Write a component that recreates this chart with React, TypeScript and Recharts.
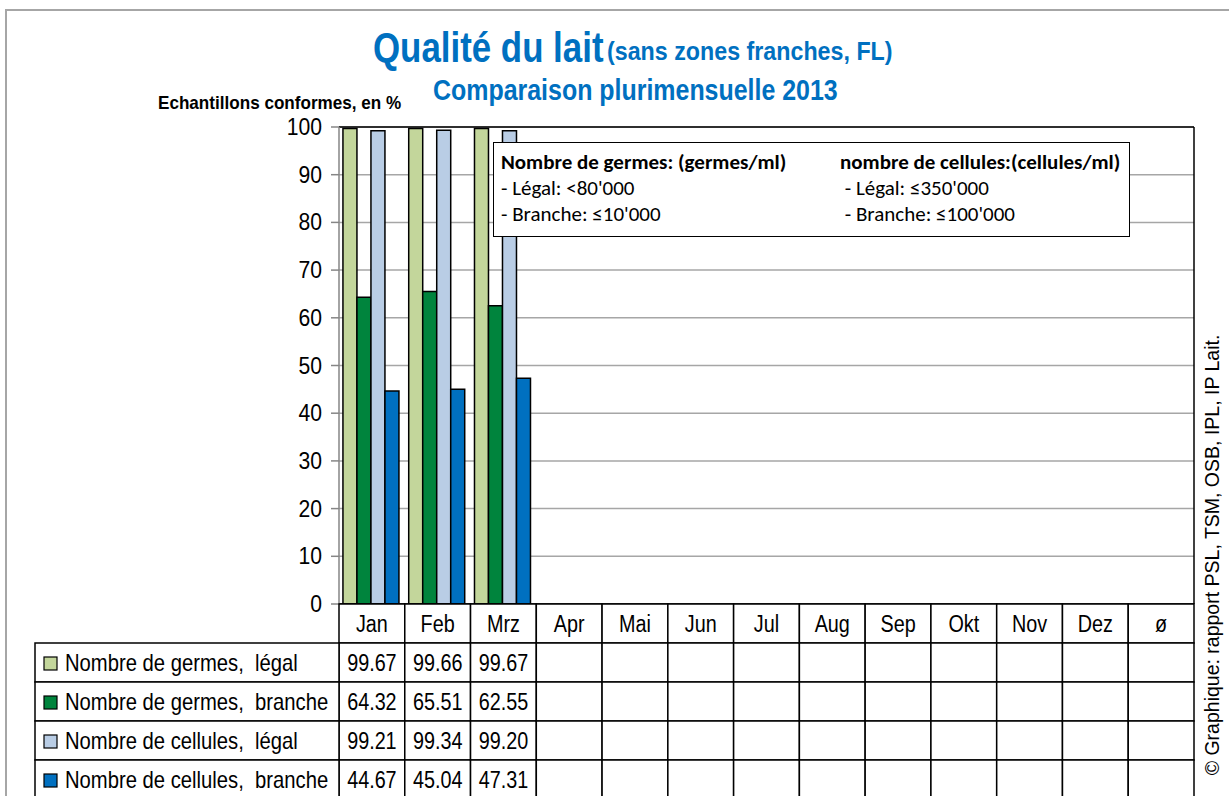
import React from "react";
import { Bar, BarChart, CartesianGrid, ReferenceLine, XAxis, YAxis } from "recharts";

const months = ["Jan", "Feb", "Mrz", "Apr", "Mai", "Jun", "Jul", "Aug", "Sep", "Okt", "Nov", "Dez", "ø"];
const germesLegal = [99.67, 99.66, 99.67, null, null, null, null, null, null, null, null, null, null];
const germesBranche = [64.32, 65.51, 62.55, null, null, null, null, null, null, null, null, null, null];
const cellulesLegal = [99.21, 99.34, 99.2, null, null, null, null, null, null, null, null, null, null];
const cellulesBranche = [44.67, 45.04, 47.31, null, null, null, null, null, null, null, null, null, null];
const yTicks = [0, 10, 20, 30, 40, 50, 60, 70, 80, 90, 100];

const series = [
  { key: "germesLegal", name: "Nombre de germes,  légal", color: "#C3D69B" },
  { key: "germesBranche", name: "Nombre de germes,  branche", color: "#00843D" },
  { key: "cellulesLegal", name: "Nombre de cellules,  légal", color: "#B9CDE5" },
  { key: "cellulesBranche", name: "Nombre de cellules,  branche", color: "#0070C0" },
];

const data = months.map((month, i) => ({
  month,
  germesLegal: germesLegal[i],
  germesBranche: germesBranche[i],
  cellulesLegal: cellulesLegal[i],
  cellulesBranche: cellulesBranche[i],
}));

const sans = "'Liberation Sans', Arial, sans-serif";
const calibri = "Carlito, Calibri, 'Open Sans', sans-serif";
const blue = "#0070C0";

const W = 1229;
const H = 796;
const plotLeft = 339;
const plotRight = 1194;
const cellW = (plotRight - plotLeft) / months.length;
const rowH = 39;
const tableLeft = 35;

// squeeze Liberation Sans so it reads like Arial Narrow
function NarrowText({ x, y, k = 0.86, anchor = "start", size = 23, children }: any) {
  return (
    <g transform={`translate(${x},${y}) scale(${k},1)`}>
      <text x={0} y={0} textAnchor={anchor} fontSize={size} fontFamily={sans} fill="#000" style={{ whiteSpace: "pre" }}>
        {children}
      </text>
    </g>
  );
}

function YTick(props: any) {
  const { x, y, payload } = props;
  return <NarrowText x={x} y={y + 8} anchor="end" k={0.92} size={23}>{payload.value}</NarrowText>;
}

function TableTick(props: any) {
  const { x, y, payload, index } = props;
  const left = x - cellW / 2;
  const row = data[index];
  return (
    <g>
      <rect x={left} y={y} width={cellW} height={rowH} fill="#fff" stroke="#000" strokeWidth={1.5} />
      <NarrowText x={x} y={y + 28} anchor="middle">{payload.value}</NarrowText>
      {series.map((s, r) => {
        const v = row ? (row as any)[s.key] : null;
        const top = y + rowH * (r + 1);
        return (
          <g key={s.key}>
            <rect x={left} y={top} width={cellW} height={rowH} fill="#fff" stroke="#000" strokeWidth={1.5} />
            {v != null && (
              <NarrowText x={x} y={top + 28} anchor="middle">{v.toFixed(2)}</NarrowText>
            )}
            {index === 0 && (
              <g>
                <rect x={tableLeft} y={top} width={left - tableLeft} height={rowH} fill="#fff" stroke="#000" strokeWidth={1.5} />
                <rect x={tableLeft + 9} y={top + 14} width={13} height={13} fill={s.color} stroke="#000" strokeWidth={1.2} />
                <NarrowText x={tableLeft + 30} y={top + 28} k={0.88}>{s.name}</NarrowText>
              </g>
            )}
          </g>
        );
      })}
    </g>
  );
}

function Squeeze({ k, children }: any) {
  return <span style={{ display: "inline-block", transform: `scaleX(${k})`, transformOrigin: "left center" }}>{children}</span>;
}

export default function App() {
  return (
    <div style={{ position: "absolute", left: 0, top: 0, width: W, height: H, overflow: "hidden", background: "#fff" }}>
      <div style={{ position: "absolute", left: 5, top: 9, width: W, height: H, border: "2px solid #a6a6a6" }} />
      <div style={{ position: "absolute", left: 0, top: 0 }}>
        <BarChart
          width={W}
          height={H}
          data={data}
          margin={{ top: 127, right: W - plotRight - 1, left: plotLeft - 60, bottom: 0 }}
          barCategoryGap="6%"
          barGap={0}
        >
          <CartesianGrid vertical={false} stroke="#a6a6a6" strokeWidth={1.5} />
          <XAxis
            dataKey="month"
            height={H - 604}
            interval={0}
            tickLine={false}
            tickSize={0}
            tickMargin={0}
            axisLine={{ stroke: "#000", strokeWidth: 1.5 }}
            tick={<TableTick />}
          />
          <YAxis
            domain={[0, 100]}
            ticks={yTicks}
            width={60}
            tickSize={8}
            tickMargin={9}
            axisLine={{ stroke: "#868686", strokeWidth: 1.5 }}
            tickLine={{ stroke: "#868686", strokeWidth: 1.5 }}
            tick={<YTick />}
          />
          <YAxis
            yAxisId="right"
            orientation="right"
            domain={[0, 100]}
            width={1}
            tick={false}
            tickLine={false}
            axisLine={{ stroke: "#000", strokeWidth: 1.5 }}
          />
          <ReferenceLine y={100} stroke="#000" strokeWidth={1.5} />
          {series.map((s) => (
            <Bar
              key={s.key}
              dataKey={s.key}
              name={s.name}
              fill={s.color}
              stroke="#000"
              strokeWidth={1.5}
              isAnimationActive={false}
            />
          ))}
        </BarChart>
      </div>

      <div style={{ position: "absolute", left: 373, top: 24, whiteSpace: "nowrap", color: blue, fontFamily: sans, fontWeight: "bold", fontSize: 42 }}>
        <Squeeze k={0.83}>Qualité du lait</Squeeze>
      </div>
      <div style={{ position: "absolute", left: 607, top: 37, whiteSpace: "nowrap", color: blue, fontFamily: sans, fontWeight: "bold", fontSize: 25 }}>
        <Squeeze k={0.93}>(sans zones franches, FL)</Squeeze>
      </div>
      <div style={{ position: "absolute", left: 433, top: 74, whiteSpace: "nowrap", color: blue, fontFamily: sans, fontWeight: "bold", fontSize: 29 }}>
        <Squeeze k={0.86}>Comparaison plurimensuelle 2013</Squeeze>
      </div>
      <div style={{ position: "absolute", left: 158, top: 92, whiteSpace: "nowrap", color: "#000", fontFamily: sans, fontWeight: "bold", fontSize: 19 }}>
        <Squeeze k={0.9}>Echantillons conformes, en %</Squeeze>
      </div>

      <div
        style={{
          position: "absolute",
          left: 493,
          top: 142,
          width: 637,
          height: 95,
          boxSizing: "border-box",
          border: "1.5px solid #000",
          background: "#fff",
          fontFamily: calibri,
          fontSize: 21,
          color: "#000",
          lineHeight: "26px",
        }}
      >
        <div style={{ position: "absolute", left: 7, top: 6, whiteSpace: "nowrap" }}>
          <div style={{ fontWeight: "bold" }}>Nombre de germes: (germes/ml)</div>
          <div>- Légal: &lt;80'000</div>
          <div>- Branche: ≤10'000</div>
        </div>
        <div style={{ position: "absolute", left: 346, top: 6, whiteSpace: "nowrap" }}>
          <div style={{ fontWeight: "bold" }}>nombre de cellules:(cellules/ml)</div>
          <div>&nbsp;- Légal: ≤350'000</div>
          <div>&nbsp;- Branche: ≤100'000</div>
        </div>
      </div>

      <div
        style={{
          position: "absolute",
          left: 1212,
          top: 555,
          transform: "translate(-50%, -50%) rotate(-90deg)",
          whiteSpace: "nowrap",
          fontFamily: sans,
          fontSize: 19.5,
          color: "#000",
        }}
      >
        © Graphique: rapport PSL, TSM, OSB, IPL, IP Lait.
      </div>
    </div>
  );
}
